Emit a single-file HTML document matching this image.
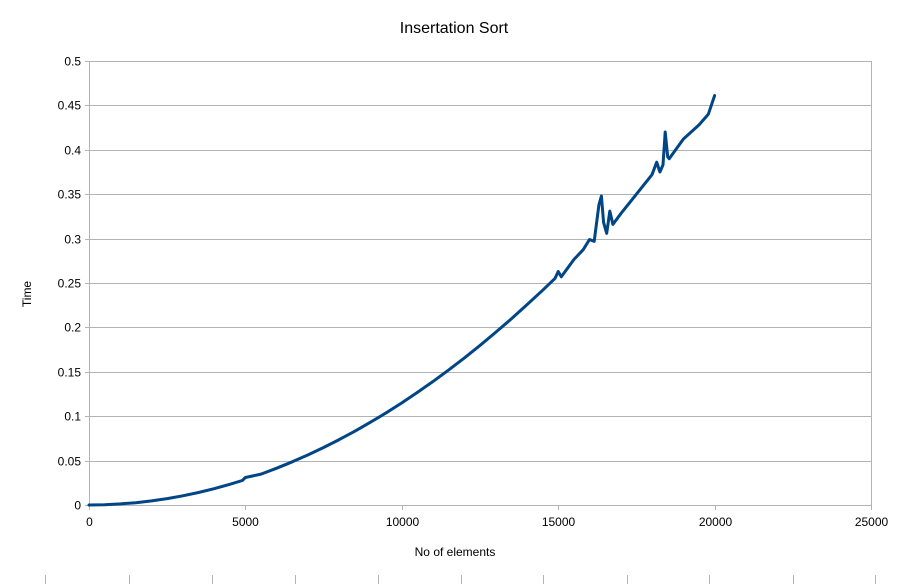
<!DOCTYPE html>
<html><head><meta charset="utf-8"><style>
body{margin:0;background:#fff;}
svg{display:block;font-family:"Liberation Sans",sans-serif;}
</style></head><body>
<svg id="chart" width="903" height="584" viewBox="0 0 903 584">
<text x="454" y="33" font-size="16" text-anchor="middle" fill="#000">Insertation Sort</text>
<text x="455" y="556" font-size="12" text-anchor="middle">No of elements</text>
<text transform="translate(31,294) rotate(-90)" font-size="12" text-anchor="middle">Time</text>
<g id="grid"></g><g id="ticks"></g><g id="series"></g><g id="foot"></g>
</svg>
<script>
const xTicks=[0,5000,10000,15000,20000,25000];
const yTicks=[0,0.05,0.1,0.15,0.2,0.25,0.3,0.35,0.4,0.45,0.5];
const nValues=[0,500,1000,1500,2000,2500,3000,3500,4000,4500,4900,5000,5500,6000,6500,7000,7500,8000,8500,9000,9500,10000,10500,11000,11500,12000,12500,13000,13500,14000,14500,14900,15000,15100,15500,15800,16000,16150,16300,16380,16450,16550,16650,16750,17000,17500,18000,18150,18250,18350,18420,18500,18550,19000,19500,19800,20000];
const timeValues=[0,0.0003,0.0012,0.0026,0.0046,0.0072,0.0104,0.0141,0.0184,0.0233,0.0276,0.031,0.0348,0.0414,0.0486,0.0564,0.0647,0.0736,0.0831,0.0932,0.1038,0.115,0.1268,0.1392,0.1521,0.1656,0.1797,0.1944,0.2096,0.2254,0.2418,0.2553,0.263,0.257,0.2763,0.2875,0.299,0.297,0.338,0.348,0.318,0.306,0.331,0.316,0.328,0.35,0.372,0.386,0.375,0.383,0.42,0.392,0.39,0.412,0.428,0.44,0.461];
const X0=89,X1=871,Y0=505,Y1=61;
const xs=v=>X0+(v-0)/(25000)*(X1-X0);
const ys=v=>Y0-(v/0.5)*(Y0-Y1);
const NS="http://www.w3.org/2000/svg";
function mk(tag,attrs,parent){const e=document.createElementNS(NS,tag);for(const k in attrs)e.setAttribute(k,attrs[k]);parent.appendChild(e);return e;}
const grid=document.getElementById('grid'),ticks=document.getElementById('ticks'),series=document.getElementById('series'),foot=document.getElementById('foot');
yTicks.forEach(v=>{
 const y=Math.round(ys(v))+0.5;
 const l=mk('line',{x1:X0-4,x2:X1,y1:y,y2:y,stroke:'#b3b3b3','stroke-width':1},grid);
 
 
 const t=mk('text',{x:X0-8,y:y+4,'font-size':12,'text-anchor':'end'},ticks);
 t.textContent=String(v);
 
 
});
xTicks.forEach(v=>{
 const x=Math.round(xs(v))+0.5;
 const l=mk('line',{x1:x,x2:x,y1:Y0,y2:Y0+5,stroke:'#b3b3b3','stroke-width':1},grid);
 
 
 const t=mk('text',{x:x,y:Y0+21,'font-size':12,'text-anchor':'middle'},ticks);
 t.textContent=String(v);
 
 
});
const lv=mk('line',{x1:X0+0.5,x2:X0+0.5,y1:Y1,y2:Y0,stroke:'#b3b3b3'},grid);


const rv=mk('line',{x1:X1+0.5,x2:X1+0.5,y1:Y1,y2:Y0,stroke:'#b3b3b3'},grid);


const d=nValues.map((n,i)=>(i?'L':'M')+xs(n).toFixed(1)+','+ys(timeValues[i]).toFixed(1)).join(' ');
const p=mk('path',{d:d,fill:'none',stroke:'#004586','stroke-width':3,'stroke-linejoin':'round','stroke-linecap':'round'},series);


[45,129,212,295,378,461,543,627,709,793,875].forEach(x=>{
 const l=mk('line',{x1:x+0.5,x2:x+0.5,y1:575,y2:584,stroke:'#b3b3b3'},foot);
 
 
});
</script>
</body></html>
